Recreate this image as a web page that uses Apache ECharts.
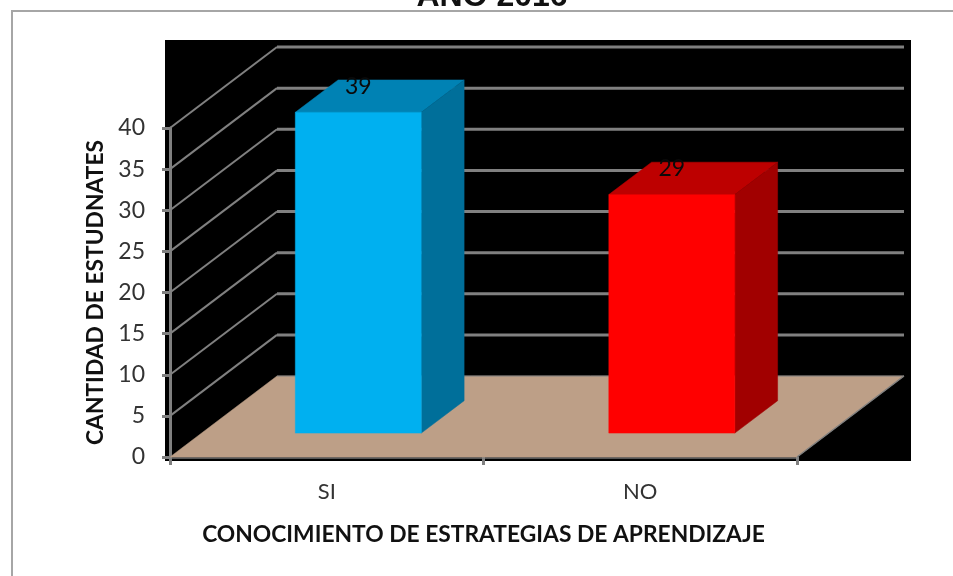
<!DOCTYPE html>
<html>
<head>
<meta charset="utf-8">
<style>
  html, body { margin: 0; padding: 0; background: #fff; }
  #chart { width: 953px; height: 576px; }
</style>
<script src="https://cdn.jsdelivr.net/npm/echarts@6/dist/echarts.min.js"></script>
</head>
<body>
<div id="chart"></div>
<script>
const categories = ['SI', 'NO'];
const values = [39, 29];
const yTicks = [5, 10, 15, 20, 25, 30, 35, 40];
const frontColors = ['#00b0f0', '#ff0000'];
const topColors = ['#0082b4', '#bd0000'];
const sideColors = ['#006f9a', '#a10000'];

// fake 3d: the depth of the box, in pixels
const depthX = 107;
const depthY = -81;
const barStart = 0.295;
const barEnd = 0.695;
const barWidth = 126;

const font = 'Lato';
const chart = echarts.init(document.getElementById('chart'));

function shift(p, d) {
  return [p[0] + depthX * d, p[1] + depthY * d];
}

function poly(points, color) {
  return { type: 'polygon', shape: { points }, style: { fill: color, stroke: color, lineWidth: 0.5 } };
}

function line(a, b, width) {
  return {
    type: 'line',
    shape: { x1: a[0], y1: a[1], x2: b[0], y2: b[1] },
    style: { stroke: '#808080', lineWidth: width },
  };
}

// category axis clamps coords outside its range, so get the edges from the band size
function axisEnds(api, v) {
  const first = api.coord([0, v]);
  const band = api.coord([1, v])[0] - first[0];
  return [[first[0] - band / 2, first[1]], [first[0] + band * 1.5, first[1]]];
}

function renderFloor(params, api) {
  const [a, b] = axisEnds(api, 0);
  return {
    type: 'group',
    children: [
      poly([a, b, shift(b, 1), shift(a, 1)], '#bd9f87'),
      line(b, shift(b, 1), 1.5),
      line(shift(a, 1), shift(b, 1), 1),
    ],
  };
}

function renderWall(params, api) {
  const [a, b] = axisEnds(api, api.value(0));
  return {
    type: 'group',
    children: [line(a, shift(a, 1), 2), line(shift(a, 1), shift(b, 1), 3)],
  };
}

function renderBar(params, api) {
  const i = params.dataIndex;
  const c = api.coord([i, 0]);
  const t = api.coord([i, api.value(1)]);
  const x0 = c[0] - barWidth / 2;
  const x1 = c[0] + barWidth / 2;
  const bl = shift([x0, c[1]], barStart);
  const br = shift([x1, c[1]], barStart);
  const tl = shift([x0, t[1]], barStart);
  const tr = shift([x1, t[1]], barStart);
  const d = barEnd - barStart;
  return {
    type: 'group',
    children: [
      poly([tl, tr, shift(tr, d), shift(tl, d)], topColors[i]),
      poly([br, tr, shift(tr, d), shift(br, d)], sideColors[i]),
      poly([bl, br, tr, tl], frontColors[i]),
      {
        type: 'text',
        x: (tl[0] + tr[0]) / 2,
        y: tl[1] - 26,
        style: { text: String(api.value(1)), font: '23px ' + font, fill: '#0a0a0a', align: 'center', verticalAlign: 'middle' },
      },
    ],
  };
}

chart.setOption({
  animation: false,
  backgroundColor: '#fff',
  graphic: [
    { type: 'rect', z: -10, shape: { x: 12, y: 11, width: 960, height: 600 }, style: { fill: '#fff', stroke: '#a6a6a6', lineWidth: 2 } },
    { type: 'rect', z: -9, shape: { x: 165, y: 40, width: 746, height: 421 }, style: { fill: '#000' } },
    { type: 'text', z: 5, x: 492, y: -3, style: { text: 'AÑO 2016', font: 'bold 32px "Liberation Sans"', fill: '#111', align: 'center', verticalAlign: 'middle' } },
  ],
  grid: { left: 170, right: 156, top: 128, bottom: 119 },
  xAxis: {
    type: 'category',
    data: categories,
    name: 'CONOCIMIENTO DE ESTRATEGIAS DE APRENDIZAJE',
    nameLocation: 'middle',
    nameGap: 65,
    nameTextStyle: { fontFamily: font, fontSize: 22.8, fontWeight: 'bold', color: '#111' },
    offset: 1,
    axisLine: { lineStyle: { color: '#555', width: 3 } },
    axisTick: { show: true, alignWithLabel: false, length: 8, lineStyle: { color: '#808080', width: 3 } },
    axisLabel: { fontFamily: font, fontSize: 22, color: '#333', margin: 23 },
  },
  yAxis: {
    type: 'value',
    min: 0,
    max: 40,
    interval: 5,
    name: 'CANTIDAD DE ESTUDNATES',
    nameLocation: 'middle',
    nameGap: 62,
    nameTextStyle: { fontFamily: font, fontSize: 22.8, fontWeight: 'bold', color: '#111' },
    axisLine: { show: true, lineStyle: { color: '#808080', width: 3 } },
    axisTick: { show: true, length: 8, lineStyle: { color: '#808080', width: 3 } },
    axisLabel: { fontFamily: font, fontSize: 23, color: '#333', margin: 25, padding: [3, 0, 0, 0] },
    splitLine: { show: false },
  },
  series: [
    { type: 'custom', z: 1, data: [[0]], renderItem: renderFloor, silent: true },
    { type: 'custom', z: 1, data: yTicks.map((v) => [v]), renderItem: renderWall, silent: true },
    { type: 'custom', z: 3, data: values.map((v, i) => [i, v]), encode: { x: 0, y: 1 }, renderItem: renderBar },
  ],
});
</script>
</body>
</html>
